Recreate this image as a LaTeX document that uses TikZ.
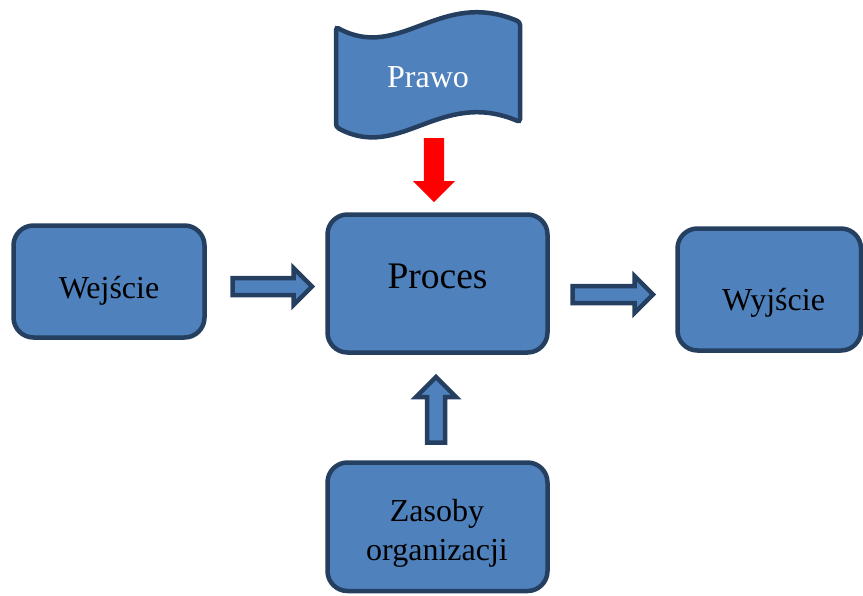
\documentclass[tikz,border=0pt]{standalone}
\usepackage{fontspec}
\setmainfont{Liberation Serif}
\usetikzlibrary{shapes.arrows}
\definecolor{boxfill}{HTML}{4F81BD}
\definecolor{boxline}{HTML}{243F60}
\begin{document}
\begin{tikzpicture}[x=1pt,y=-1pt,
  blockbox/.style={draw=boxline,fill=boxfill,line width=4.5pt,rounded corners=20pt,inner sep=0pt},
  lbl/.style={anchor=base,font=\fontsize{32}{38}\selectfont,text=black,align=center,inner sep=0pt},
  blockarrow/.style={single arrow,draw=boxline,fill=boxfill,line width=4.5pt,inner xsep=0pt,inner ysep=6.25pt,
    single arrow head extend=10pt,minimum width=0pt,minimum height=79.5pt,anchor=tail},
  redarrow/.style={single arrow,draw=none,fill=red,inner xsep=10pt,inner ysep=0pt,
    single arrow head extend=11pt,minimum width=0pt,minimum height=64pt,anchor=tail,shape border rotate=270}
]
\useasboundingbox (0,0) rectangle (863,595);
% boxes
\node[blockbox,minimum width=191pt,minimum height=112pt] (wej) at (109,281.5) {};
\node[blockbox,minimum width=220pt,minimum height=138pt] (proc) at (437.5,283.5) {};
\node[blockbox,minimum width=183.5pt,minimum height=122pt] (wyj) at (769.25,289.5) {};
\node[blockbox,minimum width=220pt,minimum height=128.5pt] (zas) at (437.5,526.75) {};
% banner
\draw[draw=boxline,fill=boxfill,line width=4.5pt,rounded corners=3pt]
  (336,27) .. controls (400,62) and (440,-12) .. (520,22)
  -- (520,122) .. controls (440,88) and (400,162) .. (336,127) -- cycle;
% texts
\node[lbl] (twej) at (109,298) {Wejście};
\node[lbl,font=\fontsize{37.5}{44}\selectfont] (tproc) at (437.5,288) {Proces};
\node[lbl] (twyj) at (773.5,310) {Wyjście};
\node[lbl] (tzas1) at (437,521.7) {Zasoby};
\node[lbl] (tzas2) at (437,560) {organizacji};
\node[lbl,text=white] (tpraw) at (428,87) {Prawo};
% arrows
\node[blockarrow] (a1) at (230.25,286.5) {};
\node[blockarrow,minimum height=80.5pt] (a2) at (570.25,294.5) {};
\node[blockarrow,shape border rotate=90,minimum height=65.5pt,inner xsep=6.75pt,inner ysep=0pt,single arrow head extend=11pt] (a3) at (436,444.75) {};
\node[redarrow] (a4) at (434,138) {};
\end{tikzpicture}
\end{document}
